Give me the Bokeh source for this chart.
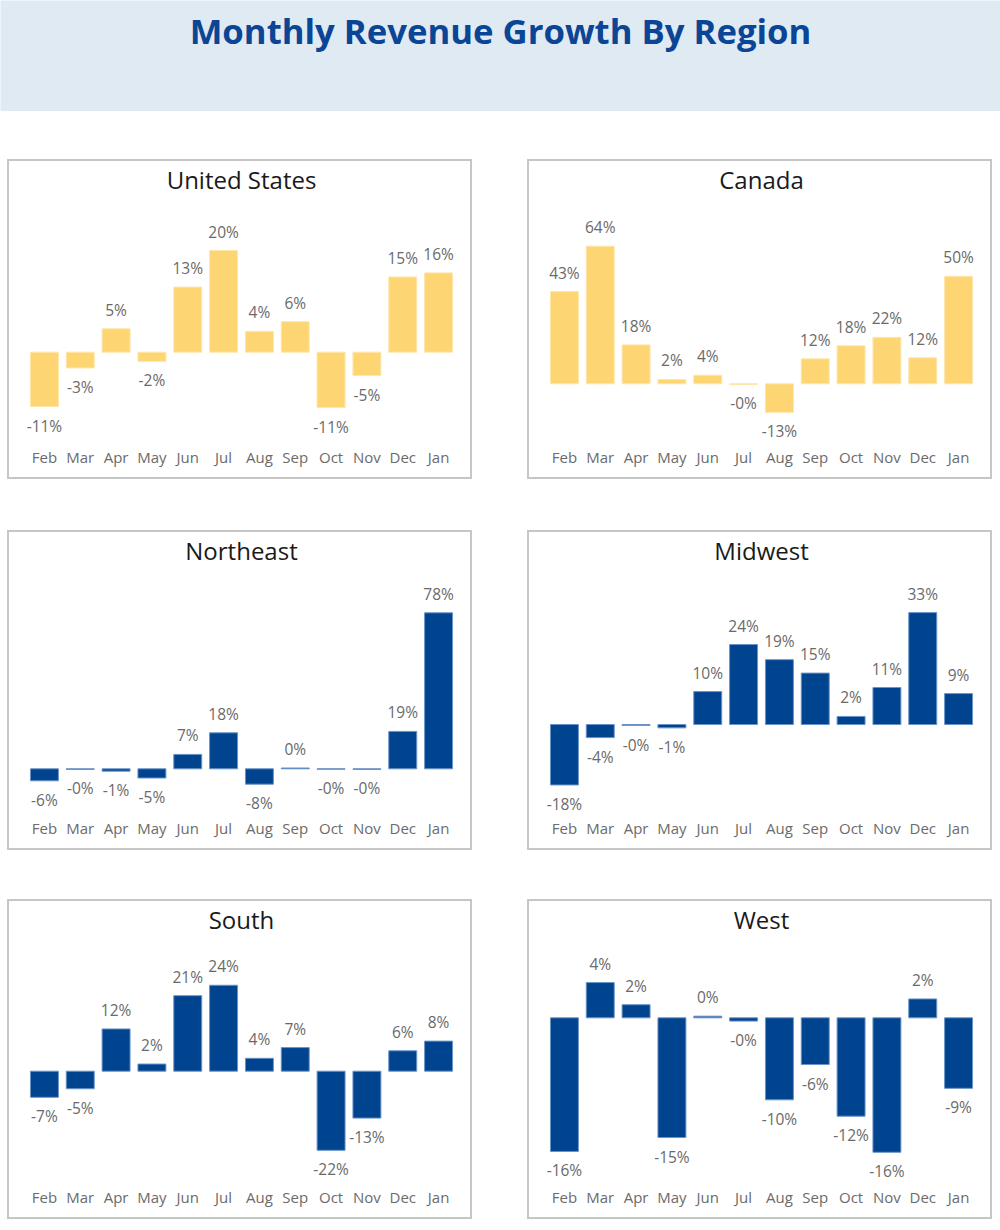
from bokeh.plotting import figure
from bokeh.layouts import column, row
from bokeh.models import Spacer, Range1d, ColumnDataSource
from bokeh.core.properties import value
from bokeh.embed import file_html
from bokeh.resources import INLINE

# Month-over-month revenue growth, in percent
months = ["Feb", "Mar", "Apr", "May", "Jun", "Jul", "Aug", "Sep", "Oct", "Nov", "Dec", "Jan"]

us_growth = [-10.7, -3.1, 4.6, -1.8, 12.8, 20.0, 4.1, 6.0, -10.9, -4.6, 14.8, 15.6]
canada_growth = [42.9, 64.0, 18.1, 2.0, 4.0, -0.3, -13.3, 11.6, 17.7, 21.6, 12.1, 50.0]
northeast_growth = [-6.0, -0.3, -1.2, -4.6, 7.2, 18.0, -7.7, 0.4, -0.2, -0.3, 18.7, 78.0]
midwest_growth = [-18.0, -3.9, -0.3, -1.0, 9.8, 23.8, 19.3, 15.3, 2.4, 11.0, 33.3, 9.2]
south_growth = [-7.3, -4.9, 11.8, 2.0, 21.1, 24.0, 3.6, 6.6, -22.1, -13.1, 5.7, 8.4]
west_growth = [-16.3, 4.3, 1.6, -14.6, 0.2, -0.4, -10.0, -5.7, -12.0, -16.4, 2.3, -8.6]

TITLE = "Monthly Revenue Growth By Region"
FONT = "Open Sans"

YELLOW = ("#fdd673", "#fee6ab")
BLUE = ("#00438f", "#6a93c8")

PANEL_W, PANEL_H = 465, 320
BORDER_L, BORDER_R, BORDER_B = 19, 16, 34


def panel(name, growth, colors, y_limits):
    fill, edge = colors
    labels = [f"{v:.0f}%" for v in growth]
    offsets = [19 if v < 0 else -19 for v in growth]
    src = ColumnDataSource(dict(month=months, growth=growth, label=labels, dy=offsets))

    p = figure(width=PANEL_W, height=PANEL_H, x_range=months, y_range=Range1d(*y_limits),
               toolbar_location=None, output_backend="svg", y_axis_location=None,
               min_border_left=BORDER_L, min_border_right=BORDER_R,
               min_border_top=0, min_border_bottom=BORDER_B)
    p.styles = {"box-shadow": "inset 0 0 0 2px #c6c6c6"}
    p.border_fill_color = None
    p.background_fill_color = None
    p.outline_line_color = None
    p.xgrid.grid_line_color = None
    p.ygrid.grid_line_color = None

    ax = p.xaxis[0]
    ax.axis_line_color = None
    ax.major_tick_line_color = None
    ax.major_tick_out = 0
    ax.major_tick_in = 0
    ax.major_label_standoff = 1
    ax.major_label_text_font = FONT
    ax.major_label_text_font_size = "15px"
    ax.major_label_text_color = "#6b6b6b"

    p.vbar(x="month", top="growth", bottom=0, width=0.78, source=src,
           fill_color=fill, line_color=edge, line_width=1)
    p.text(x="month", y="growth", text="label", y_offset="dy", source=src,
           text_align="center", text_baseline="middle",
           text_font=value(FONT), text_font_size="15.5px", text_color="#6a6a6a")

    # panel heading, centred over the plot area just below its top edge
    half_step = (PANEL_W - BORDER_L - BORDER_R) / len(months) / 2
    p.text(x=[months[len(months) // 2 - 1]], y=[y_limits[1]], text=[name],
           x_offset=half_step, y_offset=20,
           text_align="center", text_baseline="middle",
           text_font=value(FONT), text_font_size="24px", text_color="#1a1a1a")
    return p


banner = figure(width=1000, height=111, x_range=Range1d(0, 1000), y_range=Range1d(0, 111),
                toolbar_location=None, output_backend="svg",
                x_axis_location=None, y_axis_location=None, min_border=0)
banner.background_fill_color = "#e0eaf3"
banner.border_fill_color = "#e0eaf3"
banner.outline_line_color = None
banner.xgrid.grid_line_color = None
banner.ygrid.grid_line_color = None
banner.text(x=[500], y=[81], text=[TITLE], text_align="center", text_baseline="middle",
            text_font=value(FONT), text_font_size="34.7px", text_font_style="bold",
            text_color="#0b4595")

us = panel("United States", us_growth, YELLOW, (-18.35, 37.90))
ca = panel("Canada", canada_growth, YELLOW, (-28.70, 104.33))
ne = panel("Northeast", northeast_growth, BLUE, (-23.85, 119.15))
mw = panel("Midwest", midwest_growth, BLUE, (-27.38, 57.74))
so = panel("South", south_growth, BLUE, (-31.93, 47.96))
we = panel("West", west_growth, BLUE, (-20.45, 14.43))

layout = column(
    banner,
    Spacer(height=48),
    row(Spacer(width=7), us, Spacer(width=55), ca),
    Spacer(height=51),
    row(Spacer(width=7), ne, Spacer(width=55), mw),
    Spacer(height=49),
    row(Spacer(width=7), so, Spacer(width=55), we),
)

open("out.html", "w").write(file_html(layout, INLINE, TITLE))
